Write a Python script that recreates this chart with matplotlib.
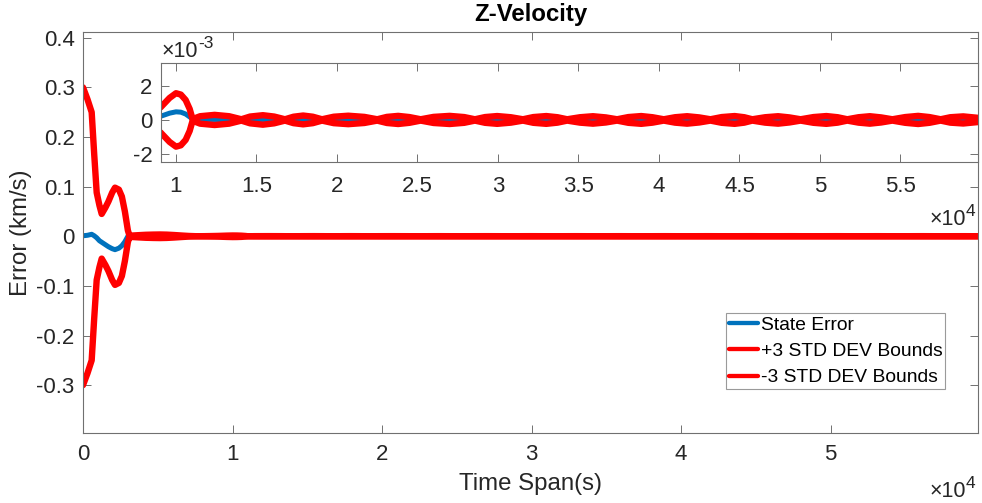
import matplotlib
matplotlib.use('Agg')
import matplotlib.pyplot as plt

plt.rcParams['font.family'] = ['Liberation Sans', 'DejaVu Sans']
plt.rcParams['axes.unicode_minus'] = False

# ---------------- data ----------------
time_s = [0, 300, 580, 750, 915, 1100, 1250, 1500, 1700, 1950, 2140, 2400, 2600, 2800,
          3000, 3100, 3300, 3700, 4200, 4700, 5150, 5600, 6100, 6600, 7100, 7600, 8100,
          8600, 9050, 9300, 9600, 10000, 10300, 10600, 10850,
          11030, 11500, 12400, 13300, 14060, 14600, 15400, 16100, 16770, 17300, 17900,
          18500, 19070, 19800, 20700, 21700, 22500, 23100, 23800, 24500, 25200, 26000,
          27000, 27900, 28570, 29200, 29950, 30800, 31550, 32200, 33000, 33700, 34300,
          35100, 35900, 36700, 37400, 38100, 38900, 39600, 40300, 41000, 41750, 42500,
          43200, 43900, 44700, 45300, 45800, 46600, 47400, 48100, 48800, 49600, 50400,
          51100, 51700, 52400, 53100, 53800, 54500, 55300, 56100, 56800, 57500, 58100,
          58900, 59870]

state_error = [0.001, 0.002, 0.004, 0.001, -0.003, -0.009, -0.012, -0.017, -0.021, -0.025,
               -0.027, -0.024, -0.019, -0.011, 0.000, 0.002, 0.001, 0.0006, 0.0004, 0.0003,
               0.0002, 0.0001, 0.0, -0.0001, -0.0001, 0.0, 0.00005, 0.0001, 0.00022,
               0.00030, 0.00040, 0.00048, 0.00046, 0.00035, 0.00018,
               0.00006, 0.00003, 0.00003, 0.00002, 0.00002, 0.00002, 0.00003, 0.00002,
               0.00001, 0.00002, 0.00002, 0.00001, 0.00001, 0.00002, 0.00002, 0.00001,
               0.00001, 0.00001, 0.00002, 0.00001, 0.00001, 0.00001, 0.00002, 0.00001,
               0.00001, 0.00001, 0.00001, 0.00001, 0.00001, 0.00001, 0.00001, 0.00001,
               0.00001, 0.00001, 0.00001, 0.00001, 0.00001, 0.00001, 0.00001, 0.00001,
               0.00001, 0.00001, 0.00001, 0.00001, 0.00001, 0.00001, 0.00001, 0.00001,
               0.00001, 0.00001, 0.00001, 0.00001, 0.00001, 0.00001, 0.00001, 0.00001,
               0.00001, 0.00001, 0.00001, 0.00001, 0.00001, 0.00001, 0.00001, 0.00001,
               0.00001, 0.00001, 0.00001, 0.00001]

std3_bound = [0.300, 0.276, 0.250, 0.165, 0.088, 0.062, 0.045, 0.058, 0.070, 0.088, 0.098,
              0.094, 0.080, 0.050, 0.012, 0.002, 0.0015, 0.0022, 0.0030, 0.0034, 0.0036,
              0.0033, 0.0025, 0.0015, 0.0006, 0.0001, 0.0002, 0.00045, 0.00075, 0.00100,
              0.00130, 0.00158, 0.00150, 0.00118, 0.00065,
              0.00005, 0.00022, 0.00030, 0.00022, 0.00004, 0.00020, 0.00028, 0.00020,
              0.00004, 0.00019, 0.00026, 0.00019, 0.00004, 0.00019, 0.00025, 0.00018,
              0.00004, 0.00018, 0.00024, 0.00017, 0.00004, 0.00018, 0.00024, 0.00017,
              0.00004, 0.00017, 0.00023, 0.00016, 0.00004, 0.00017, 0.00023, 0.00016,
              0.00004, 0.00016, 0.00022, 0.00015, 0.00004, 0.00017, 0.00023, 0.00016,
              0.00004, 0.00016, 0.00022, 0.00015, 0.00004, 0.00017, 0.00023, 0.00016,
              0.00004, 0.00016, 0.00022, 0.00015, 0.00004, 0.00017, 0.00023, 0.00016,
              0.00004, 0.00016, 0.00022, 0.00015, 0.00004, 0.00017, 0.00024, 0.00017,
              0.00004, 0.00016, 0.00021, 0.00012]

plus_bound = std3_bound
minus_bound = [-v for v in std3_bound]

main_xticks = [0, 10000, 20000, 30000, 40000, 50000]
main_xlabels = ['0', '1', '2', '3', '4', '5']
main_yticks = [-0.3, -0.2, -0.1, 0.0, 0.1, 0.2, 0.3, 0.4]
main_ylabels = ['-0.3', '-0.2', '-0.1', '0', '0.1', '0.2', '0.3', '0.4']
inset_xticks = [10000, 15000, 20000, 25000, 30000, 35000, 40000, 45000, 50000, 55000]
inset_xlabels = ['1', '1.5', '2', '2.5', '3', '3.5', '4', '4.5', '5', '5.5']
inset_yticks = [-0.002, 0.0, 0.002]
inset_ylabels = ['-2', '0', '2']

series_labels = ['State Error', '+3 STD DEV Bounds', '-3 STD DEV Bounds']

# ---------------- style ----------------
BLUE = '#0072BD'
RED = '#FF0000'
TXT = '#262626'
SPINE = '#707070'
W, H = 982, 503

fig = plt.figure(figsize=(W / 100, H / 100), dpi=100)
fig.patch.set_facecolor('white')


def px_axes(left, top, right, bottom):
    return [left / W, 1 - bottom / H, (right - left) / W, (bottom - top) / H]


def style(a, labelsize, pad):
    a.tick_params(direction='in', length=6, width=0.7, color=SPINE, labelcolor=TXT,
                  labelsize=labelsize, top=True, right=True, pad=pad)
    for s in a.spines.values():
        s.set_color(SPINE)
        s.set_linewidth(0.8)


def exponent(x_left, y_base, exp_text):
    # "x10" followed by a raised exponent, positioned in pixels
    fig.text(x_left / W, 1 - y_base / H, '×10', ha='left', va='baseline',
             fontsize=15.5, color=TXT)
    fig.text((x_left + 36) / W, 1 - (y_base - 9) / H, exp_text, ha='left',
             va='baseline', fontsize=12.5, color=TXT)


ax = fig.add_axes(px_axes(83, 32.3, 978.3, 433.3))
ax.plot(time_s, state_error, color=BLUE, lw=3.6, label=series_labels[0], solid_capstyle='round')
ax.plot(time_s, plus_bound, color=RED, lw=4.6, label=series_labels[1], solid_capstyle='round')
ax.plot(time_s, minus_bound, color=RED, lw=4.6, label=series_labels[2], solid_capstyle='round')
ax.set_xlim(0, 59870)
ax.set_ylim(-0.397, 0.411)
ax.set_xticks(main_xticks)
ax.set_xticklabels(main_xlabels)
ax.set_yticks(main_yticks)
ax.set_yticklabels(main_ylabels)
style(ax, 16, 7.5)
ax.tick_params(axis='y', pad=6)
ax.set_xlabel('Time Span(s)', fontsize=17.3, color=TXT, labelpad=6)
ax.set_ylabel('Error (km/s)', fontsize=17.3, color=TXT, labelpad=3)
ax.set_title('Z-Velocity', fontsize=17.3, fontweight='bold', color='black', pad=8)

leg = ax.legend(loc='lower left', bbox_to_anchor=(0.718, 0.110), fontsize=13.9,
                frameon=True, fancybox=False, edgecolor='#9a9a9a', framealpha=1,
                borderpad=0.15, labelspacing=0.45, handlelength=1.5,
                handletextpad=0.15, borderaxespad=0)
leg.get_frame().set_linewidth(0.8)
for t in leg.get_texts():
    t.set_color('black')
for h in leg.get_lines():
    h.set_linewidth(3.1)

exponent(930, 497, '4')

# ---------------- inset ----------------
axin = fig.add_axes(px_axes(160.7, 63.3, 977.7, 161.7))
axin.set_facecolor('white')
axin.plot(time_s, state_error, color=BLUE, lw=3.6, solid_capstyle='round')
axin.plot(time_s, plus_bound, color=RED, lw=4.6, solid_capstyle='round')
axin.plot(time_s, minus_bound, color=RED, lw=4.6, solid_capstyle='round')
axin.set_xlim(9050, 59800)
axin.set_ylim(-0.00247, 0.00335)
axin.set_xticks(inset_xticks)
axin.set_xticklabels(inset_xlabels)
axin.set_yticks(inset_yticks)
axin.set_yticklabels(inset_ylabels)
style(axin, 16, 10)
axin.tick_params(axis='y', pad=6)

exponent(930, 225, '4')
exponent(162, 57, '-3')

fig.savefig('out.png', dpi=100)
